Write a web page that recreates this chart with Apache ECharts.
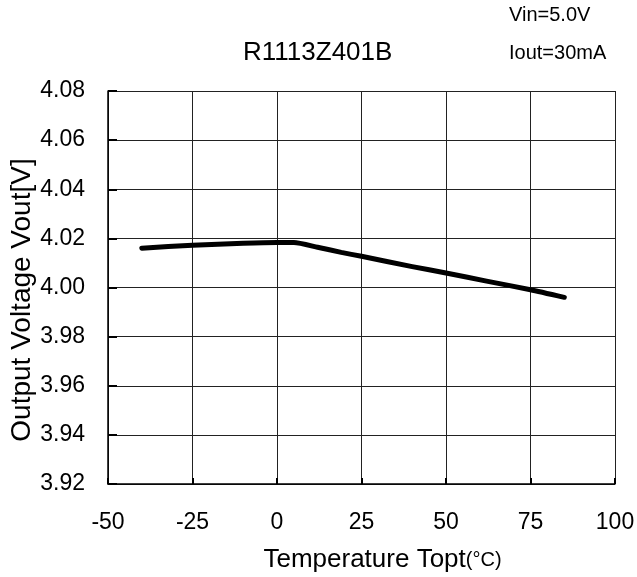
<!DOCTYPE html>
<html>
<head>
<meta charset="utf-8">
<script src="https://cdn.jsdelivr.net/npm/echarts@6/dist/echarts.min.js"></script>
<style>
  html, body { margin: 0; padding: 0; background: #fff; }
  #main { width: 637px; height: 577px; }
</style>
</head>
<body>
<div id="main"></div>
<script>
// 温度特性数据 (Topt -> Vout)
var tempData = [-40, -25, -10, 0, 5, 12, 19, 25, 40, 50, 62, 75, 85];
var voutData = [4.0160, 4.0172, 4.0180, 4.0183, 4.0183, 4.0164, 4.0143, 4.0127, 4.0085, 4.0059, 4.0026, 3.9991, 3.9960];
var xTicks = [-50, -25, 0, 25, 50, 75, 100];
var yTicks = [3.92, 3.94, 3.96, 3.98, 4.00, 4.02, 4.04, 4.06, 4.08];

var seriesData = [];
for (var i = 0; i < tempData.length; i++) {
  seriesData.push([tempData[i], voutData[i]]);
}

var font = 'Liberation Sans, Arial, sans-serif';
var myChart = echarts.init(document.getElementById('main'));
myChart.setOption({
  animation: false,
  backgroundColor: '#fff',
  title: [
    {text: 'R1113Z401B', left: 238, top: 35,
      textStyle: {fontFamily: font, fontWeight: 'normal', fontSize: 26, color: '#000'}},
    {text: 'Vin=5.0V', left: 504, top: 0,
      textStyle: {fontFamily: font, fontWeight: 'normal', fontSize: 20, color: '#000'}},
    {text: 'Iout=30mA', left: 504, top: 38,
      textStyle: {fontFamily: font, fontWeight: 'normal', fontSize: 20, color: '#000'}}
  ],
  grid: {left: 108, right: 22, top: 91, bottom: 93, containLabel: false, outerBoundsMode: 'none'},
  xAxis: {
    type: 'value',
    min: xTicks[0],
    max: xTicks[xTicks.length - 1],
    interval: 25,
    name: '{a|Temperature Topt}{b|(°C)}',
    nameLocation: 'middle',
    nameGap: 63,
    nameMoveOverlap: false,
    nameTextStyle: {
      padding: [0, 0, 0, 42],
      rich: {
        a: {fontFamily: font, fontSize: 26, color: '#000'},
        b: {fontFamily: font, fontSize: 20, color: '#000'}
      }
    },
    axisLine: {onZero: false, lineStyle: {color: '#000', width: 1.5}},
    axisTick: {show: true, inside: true, length: 6, lineStyle: {color: '#000', width: 2}},
    axisLabel: {fontFamily: font, fontSize: 23, color: '#000', margin: 27},
    splitLine: {show: true, lineStyle: {color: '#222', width: 1}}
  },
  yAxis: {
    type: 'value',
    min: yTicks[0],
    max: yTicks[yTicks.length - 1],
    interval: 0.02,
    name: 'Output Voltage Vout[V]',
    nameLocation: 'middle',
    nameGap: 72,
    nameMoveOverlap: false,
    nameTextStyle: {fontFamily: font, fontSize: 28, color: '#000', padding: [0, 25, 0, 0]},
    axisLine: {show: true, onZero: false, lineStyle: {color: '#000', width: 1.5}},
    axisTick: {show: true, inside: true, length: 9, lineStyle: {color: '#000', width: 2}},
    axisLabel: {
      fontFamily: font, fontSize: 23, color: '#000', margin: 23,
      formatter: function (v) { return v.toFixed(2); }
    },
    splitLine: {show: true, lineStyle: {color: '#222', width: 1}}
  },
  series: [{
    type: 'line',
    data: seriesData,
    smooth: 0.2,
    showSymbol: false,
    lineStyle: {color: '#000', width: 5, cap: 'round', join: 'round'}
  }]
});
</script>
</body>
</html>
